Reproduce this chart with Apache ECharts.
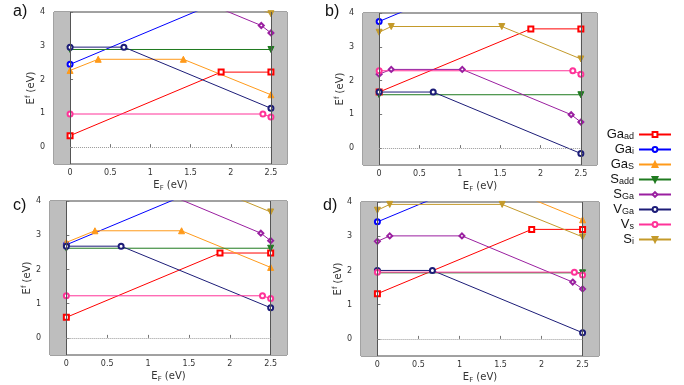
<!DOCTYPE html>
<html>
<head>
<meta charset="utf-8">
<script src="https://cdn.jsdelivr.net/npm/echarts@6/dist/echarts.min.js"></script>
<style>
  html, body { margin: 0; padding: 0; background: #fff; }
  #chart { width: 684px; height: 385px; }
</style>
</head>
<body>
<div id="chart"></div>
<script>
// axis ranges and ticks
var xRange = [-0.2, 2.7];
var yRange = [-0.5, 4];
var xTicks = [0, 0.5, 1, 1.5, 2, 2.5];
var yTicks = [0, 1, 2, 3, 4];
var bandEdges = [0, 2.5]; // VBM, CBM

var panels = ['a', 'b', 'c', 'd'];

// formation energy vs Fermi level, [E_F, E^f] for each panel
var Ga_ad = {
  a: [[0, 0.34], [1.88, 2.22], [2.5, 2.22]],
  b: [[0, 1.66], [1.88, 3.53], [2.5, 3.53]],
  c: [[0, 0.6], [1.88, 2.48], [2.5, 2.48]],
  d: [[0, 1.32], [1.88, 3.2], [2.5, 3.2]]
};
var Ga_i = {
  a: [[0, 2.45], [2.5, 4.95]],
  b: [[0, 3.75], [2.5, 6.25]],
  c: [[0, 2.72], [2.5, 5.22]],
  d: [[0, 3.42], [2.5, 5.92]]
};
var Ga_S = {
  a: [[0, 2.27], [0.35, 2.6], [1.41, 2.6], [2.5, 1.55]],
  b: [[0, 4.9], [0.35, 5.23], [1.41, 5.23], [2.5, 4.18]],
  c: [[0, 2.79], [0.35, 3.13], [1.41, 3.13], [2.5, 2.06]],
  d: [[0, 4.2], [0.35, 4.55], [1.41, 4.55], [2.5, 3.48]]
};
var S_add = {
  a: [[0, 2.89], [2.5, 2.89]],
  b: [[0, 1.58], [2.5, 1.58]],
  c: [[0, 2.62], [2.5, 2.62]],
  d: [[0, 1.93], [2.5, 1.93]]
};
var S_Ga = {
  a: [[0, 4.8], [0.15, 4.93], [1.03, 4.93], [2.38, 3.6], [2.5, 3.38]],
  b: [[0, 2.19], [0.15, 2.33], [1.03, 2.33], [2.38, 0.99], [2.5, 0.77]],
  c: [[0, 4.27], [0.15, 4.41], [1.03, 4.41], [2.38, 3.06], [2.5, 2.84]],
  d: [[0, 2.85], [0.15, 3.01], [1.03, 3.01], [2.38, 1.66], [2.5, 1.46]]
};
var V_Ga = {
  a: [[0, 2.96], [0.67, 2.96], [2.5, 1.15]],
  b: [[0, 1.66], [0.67, 1.66], [2.5, -0.16]],
  c: [[0, 2.68], [0.67, 2.68], [2.5, 0.88]],
  d: [[0, 2.0], [0.67, 2.0], [2.5, 0.18]]
};
var V_s = {
  a: [[0, 0.98], [2.4, 0.98], [2.5, 0.89]],
  b: [[0, 2.29], [2.4, 2.29], [2.5, 2.19]],
  c: [[0, 1.23], [2.4, 1.23], [2.5, 1.15]],
  d: [[0, 1.95], [2.4, 1.95], [2.5, 1.87]]
};
var S_i = {
  a: [[0, 4.74], [0.15, 4.91], [1.52, 4.91], [2.5, 3.95]],
  b: [[0, 3.43], [0.15, 3.6], [1.52, 3.6], [2.5, 2.64]],
  c: [[0, 4.47], [0.15, 4.64], [1.52, 4.64], [2.5, 3.68]],
  d: [[0, 3.76], [0.15, 3.93], [1.52, 3.93], [2.5, 2.98]]
};

var defects = [
  {name: 'Ga_ad', data: Ga_ad, label: '{m|Ga}{s|ad}', color: '#ff0000', symbol: 'emptyRect', rot: 0, size: 5},
  {name: 'Ga_i', data: Ga_i, label: '{m|Ga}{s|i}', color: '#0000ff', symbol: 'emptyCircle', rot: 0, size: 5},
  {name: 'Ga_S', data: Ga_S, label: '{m|Ga}{s|S}', color: '#ff9a1a', symbol: 'triangle', rot: 0, size: 6},
  {name: 'S_add', data: S_add, label: '{m|S}{s|add}', color: '#1f7a1f', symbol: 'triangle', rot: 180, size: 6},
  {name: 'S_Ga', data: S_Ga, label: '{m|S}{s|Ga}', color: '#9a1fa0', symbol: 'emptyDiamond', rot: 0, size: 5},
  {name: 'V_Ga', data: V_Ga, label: '{m|V}{s|Ga}', color: '#1c1c78', symbol: 'emptyCircle', rot: 0, size: 5},
  {name: 'V_s', data: V_s, label: '{m|V}{s|s}', color: '#ff3399', symbol: 'emptyCircle', rot: 0, size: 5},
  {name: 'S_i', data: S_i, label: '{m|S}{s|i}', color: '#c49a2a', symbol: 'triangle', rot: 180, size: 6}
];

var gridBoxes = [
  {left: 54, top: 12, width: 233, height: 152},
  {left: 363, top: 13, width: 234, height: 152},
  {left: 50, top: 201, width: 237, height: 154},
  {left: 361, top: 202, width: 238, height: 155}
];
var panelLabelPos = [[13, 4], [325, 4], [13, 198], [323, 198]];

var tickFont = {fontFamily: 'DejaVu Sans', fontSize: 8, color: '#333'};
var nameRich = {
  m: {fontFamily: 'DejaVu Sans', fontSize: 10, color: '#333', lineHeight: 13},
  s: {fontFamily: 'DejaVu Sans', fontSize: 7, color: '#333', lineHeight: 8, verticalAlign: 'bottom'},
  p: {fontFamily: 'DejaVu Sans', fontSize: 7, color: '#333', lineHeight: 8, verticalAlign: 'top'}
};

var grid = [], xAxis = [], yAxis = [], series = [], title = [];

panels.forEach(function (p, i) {
  grid.push(Object.assign({show: true, borderColor: '#444', borderWidth: 1, containLabel: false}, gridBoxes[i]));
  title.push({
    text: p + ')', left: panelLabelPos[i][0], top: panelLabelPos[i][1], padding: 0,
    textStyle: {fontFamily: 'Liberation Sans', fontSize: 16, fontWeight: 'normal', color: '#111'}
  });
  xAxis.push({
    type: 'value', gridIndex: i, min: xRange[0], max: xRange[1],
    name: '{m|E}{s|F}{m| (eV)}', nameLocation: 'middle', nameGap: 15,
    nameTextStyle: {rich: nameRich},
    axisLine: {show: false},
    axisTick: {show: true, inside: true, length: 3, customValues: xTicks, lineStyle: {color: '#777'}},
    axisLabel: Object.assign({customValues: xTicks, margin: 5}, tickFont),
    splitLine: {show: false}
  });
  yAxis.push({
    type: 'value', gridIndex: i, min: yRange[0], max: yRange[1],
    name: '{m|E}{p|f}{m| (eV)}', nameLocation: 'middle', nameGap: 16, nameRotate: 90,
    nameTextStyle: {rich: nameRich},
    axisLine: {show: false},
    axisTick: {show: true, inside: true, length: 3, customValues: yTicks, lineStyle: {color: '#777'}},
    axisLabel: Object.assign({customValues: yTicks, margin: 9}, tickFont),
    splitLine: {show: false}
  });

  defects.forEach(function (d, k) {
    var s = {
      name: d.name, type: 'line', xAxisIndex: i, yAxisIndex: i,
      data: d.data[p],
      symbol: d.symbol, symbolSize: d.size, symbolRotate: d.rot,
      showAllSymbol: true, clip: true,
      lineStyle: {color: d.color, width: 1},
      itemStyle: {color: d.color, borderColor: d.color, borderWidth: 1},
      emphasis: {disabled: true},
      z: 3
    };
    if (k === 0) {
      s.markArea = {
        silent: true,
        itemStyle: {color: '#bebebe', opacity: 1},
        data: [
          [{xAxis: xRange[0]}, {xAxis: bandEdges[0]}],
          [{xAxis: bandEdges[1]}, {xAxis: xRange[1]}]
        ]
      };
      s.markLine = {
        silent: true, symbol: 'none', label: {show: false},
        data: [
          {xAxis: bandEdges[0], lineStyle: {color: '#555', width: 1, type: 'solid'}},
          {xAxis: bandEdges[1], lineStyle: {color: '#555', width: 1, type: 'solid'}},
          [{coord: [bandEdges[0], 0], lineStyle: {color: '#999', width: 1, type: [1, 1]}},
           {coord: [bandEdges[1], 0]}]
        ]
      };
    }
    series.push(s);
  });
});

var labelByName = {};
defects.forEach(function (d) { labelByName[d.name] = d.label; });

var chart = echarts.init(document.getElementById('chart'), null, {renderer: 'canvas'});
chart.setOption({
  animation: false,
  backgroundColor: '#fff',
  title: title,
  grid: grid,
  xAxis: xAxis,
  yAxis: yAxis,
  legend: {
    orient: 'vertical', right: 7, top: 123, align: 'right',
    itemWidth: 32, itemHeight: 6, itemGap: 1.5,
    selectedMode: false,
    data: defects.map(function (d) { return d.name; }),
    formatter: function (n) { return labelByName[n]; },
    textStyle: {
      color: '#111',
      rich: {
        m: {fontFamily: 'Liberation Sans', fontSize: 13, color: '#111', lineHeight: 14},
        s: {fontFamily: 'Liberation Sans', fontSize: 9, color: '#111', lineHeight: 9, verticalAlign: 'bottom'}
      }
    }
  },
  series: series
});
</script>
</body>
</html>
